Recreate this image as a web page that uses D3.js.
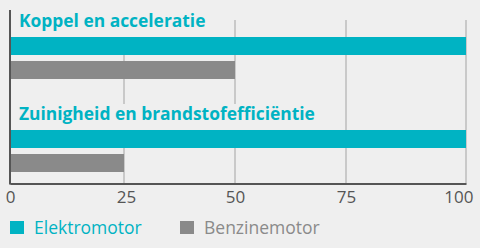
<!DOCTYPE html>
<html>
<head>
<meta charset="utf-8">
<script src="https://cdn.jsdelivr.net/npm/d3@7"></script>
<style>
  body { margin: 0; background: #efefef; }
  svg { display: block; }
</style>
</head>
<body>
<div id="chart"></div>
<script>
// data
var groups = ["Koppel en acceleratie", "Zuinigheid en brandstofefficiëntie"];
var series = ["Elektromotor", "Benzinemotor"];
var elektro = [100, 100];
var benzine = [50, 25];
var ticks = [0, 25, 50, 75, 100];

var colors = {"Elektromotor": "#00b3c3", "Benzinemotor": "#8a8a8a"};

var W = 480, H = 248;
var svg = d3.select("#chart").append("svg")
    .attr("width", W)
    .attr("height", H);

svg.append("rect").attr("width", W).attr("height", H).attr("fill", "#efefef");

// the original axis is not quite even, so use a polylinear scale
var x = d3.scaleLinear().domain(ticks).range([10, 124, 235, 346, 466]);
var axisY = 183.5;
var groupTop = [11, 104];

// grid lines
svg.append("g").selectAll("line")
    .data(ticks.slice(1))
    .enter().append("line")
    .attr("x1", function(d) { return x(d); })
    .attr("x2", function(d) { return x(d); })
    .attr("y1", 20)
    .attr("y2", axisY)
    .attr("stroke", "#bcbcbc")
    .attr("stroke-width", 1.5);

var rows = groups.map(function(g, i) {
  return {group: g, values: [elektro[i], benzine[i]], top: groupTop[i]};
});

var barY = d3.scaleBand().domain(series).range([26, 68]).paddingInner(0.25).paddingOuter(0);

var gg = svg.selectAll(".grp")
    .data(rows)
    .enter().append("g")
    .attr("class", "grp")
    .attr("transform", function(d) { return "translate(0," + d.top + ")"; });

// title with background (covers gridlines)
var titles = gg.append("text")
    .attr("x", 19)
    .attr("y", 16)
    .attr("fill", "#00b3c3")
    .style("font-family", "'Open Sans', sans-serif")
    .style("font-weight", "700")
    .style("font-size", "17.4px")
    .text(function(d) { return d.group; });

titles.each(function() {
  var len = this.getComputedTextLength();
  d3.select(this.parentNode).insert("rect", "text")
      .attr("x", 11)
      .attr("y", 0)
      .attr("width", len + 30)
      .attr("height", 26)
      .attr("fill", "#efefef");
});

gg.selectAll(".bar")
    .data(function(d) { return d.values.map(function(v, j) { return {s: series[j], v: v}; }); })
    .enter().append("rect")
    .attr("class", "bar")
    .attr("x", x(0) + 1)
    .attr("y", function(d) { return barY(d.s); })
    .attr("width", function(d) { return x(d.v) - x(0) - 1; })
    .attr("height", barY.bandwidth())
    .attr("fill", function(d) { return colors[d.s]; });

// axes
var xAxis = svg.append("g")
    .attr("transform", "translate(0," + axisY + ")")
    .call(d3.axisBottom(x).tickValues(ticks).tickSize(0).tickPadding(0));
xAxis.select(".domain").attr("stroke", "#555").attr("stroke-width", 2);
xAxis.selectAll("text")
    .attr("fill", "#555")
    .attr("y", 19.5)
    .attr("dy", 0)
    .style("font-family", "'Open Sans', sans-serif")
    .style("font-size", "17px")
    .attr("text-anchor", function(d) { return d === 100 ? "end" : "middle"; })
    .attr("dx", function(d) { return d === 100 ? "7" : (d === 25 ? "2" : "0"); });

svg.append("line")
    .attr("x1", 10).attr("x2", 10)
    .attr("y1", 10).attr("y2", axisY + 1)
    .attr("stroke", "#555").attr("stroke-width", 2);

// legend
var legendX = [10, 180];
var leg = svg.selectAll(".leg")
    .data(series)
    .enter().append("g")
    .attr("class", "leg")
    .attr("transform", function(d, i) { return "translate(" + legendX[i] + ",221)"; });
leg.append("rect")
    .attr("width", 14).attr("height", 13)
    .attr("fill", function(d) { return colors[d]; });
leg.append("text")
    .attr("x", 24).attr("y", 13)
    .attr("fill", function(d) { return d === "Elektromotor" ? "#00b3c3" : "#8a8a8a"; })
    .style("font-family", "'Open Sans', sans-serif")
    .style("font-size", "17.5px")
    .text(function(d) { return d; });
</script>
</body>
</html>
